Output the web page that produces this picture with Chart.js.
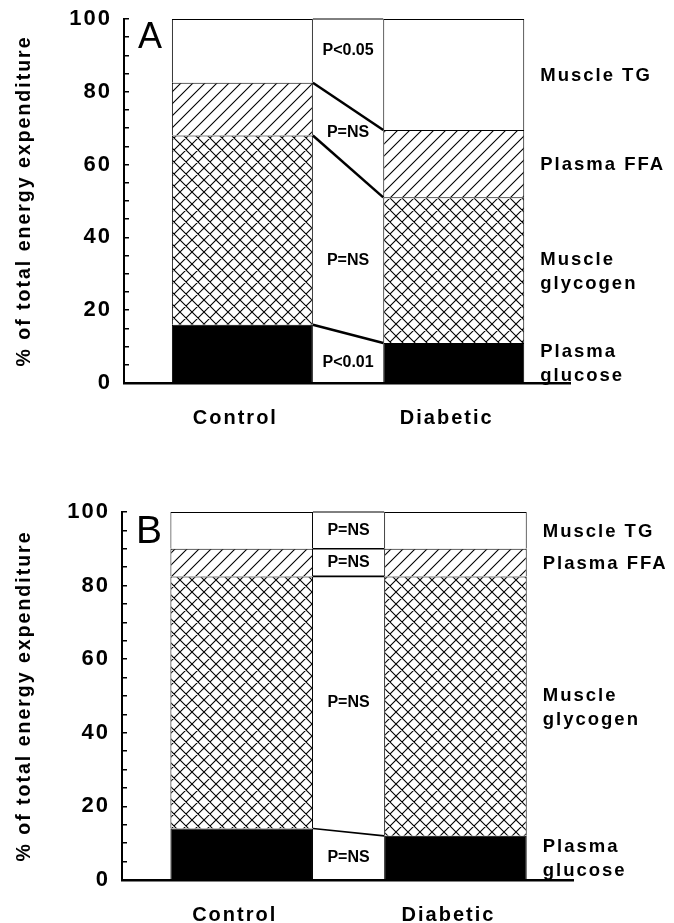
<!DOCTYPE html>
<html>
<head>
<meta charset="utf-8">
<script src="https://cdn.jsdelivr.net/npm/chart.js@4.4.0/dist/chart.umd.min.js"></script>
<style>
  body { margin: 0; background: #fff; }
  canvas { display: block; }
</style>
</head>
<body>
<canvas id="chartA" width="674" height="460"></canvas>
<canvas id="chartB" width="674" height="463"></canvas>
<script>
const groups = ['Control', 'Diabetic'];
const sources = ['Plasma glucose', 'Muscle glycogen', 'Plasma FFA', 'Muscle TG'];
const sourceLabels = [['Plasma', 'glucose'], ['Muscle', 'glycogen'], ['Plasma FFA'], ['Muscle TG']];
const yLabelTicks = [0, 20, 40, 60, 80, 100];

// panel A  (control, diabetic)
const glucoseA = [16, 11];
const glycogenA = [52, 40];
const ffaA = [14.5, 18.5];
const tgA = [17.5, 30.5];
const pValuesA = ['P<0.01', 'P=NS', 'P=NS', 'P<0.05'];

// panel B
const glucoseB = [14, 12];
const glycogenB = [68.5, 70.5];
const ffaB = [7.5, 7.5];
const tgB = [10, 10];
const pValuesB = ['P=NS', 'P=NS', 'P=NS', 'P=NS'];

const FONT = '"Liberation Sans", Arial, sans-serif';

function makePattern(kind) {
  const c = document.createElement('canvas');
  c.width = 12; c.height = 12;
  const g = c.getContext('2d');
  g.fillStyle = '#fff';
  g.fillRect(0, 0, 12, 12);
  g.strokeStyle = '#000';
  g.lineWidth = 1.1;
  g.beginPath();
  // "/" lines
  g.moveTo(-1, 13); g.lineTo(13, -1);
  g.moveTo(-1, 1); g.lineTo(1, -1);
  g.moveTo(11, 13); g.lineTo(13, 11);
  if (kind === 'cross') {
    g.moveTo(-1, -1); g.lineTo(13, 13);
    g.moveTo(11, -1); g.lineTo(13, 1);
    g.moveTo(-1, 11); g.lineTo(1, 13);
  }
  g.stroke();
  return g.createPattern(c, 'repeat');
}

const crossFill = makePattern('cross');
const hatchFill = makePattern('hatch');
const fills = ['#000', crossFill, hatchFill, '#fff'];

// connecting lines, P values, segment names, panel letter
const annotations = {
  id: 'annotations',
  beforeDraw(chart) {
    chart.ctx.letterSpacing = '2px';
  },
  afterDraw(chart, args, opts) {
    const ctx = chart.ctx;
    const metas = chart.data.datasets.map((d, i) => chart.getDatasetMeta(i));
    ctx.save();
    ctx.strokeStyle = '#000';
    ctx.fillStyle = '#000';
    metas.forEach((meta, i) => {
      const c = meta.data[0], d = meta.data[1];
      const x1 = c.x + c.width / 2, x2 = d.x - d.width / 2;
      ctx.lineWidth = i === metas.length - 1 ? 1 : opts.lineWidth;
      ctx.beginPath();
      ctx.moveTo(x1, c.y);
      ctx.lineTo(x2, d.y);
      ctx.stroke();

      // p value in the free part of the gap
      const top = Math.max(c.y, d.y), bottom = Math.min(c.base, d.base);
      ctx.letterSpacing = '0px';
      ctx.font = 'bold 16px ' + FONT;
      ctx.textAlign = 'center';
      ctx.textBaseline = 'middle';
      ctx.fillText(opts.pValues[i], (x1 + x2) / 2, (top + bottom) / 2);

      // segment name at the right of the diabetic bar
      const lines = sourceLabels[i];
      const mid = (d.y + d.base) / 2;
      ctx.letterSpacing = '2px';
      ctx.font = 'bold 18.5px ' + FONT;
      ctx.textAlign = 'left';
      ctx.textBaseline = 'alphabetic';
      lines.forEach((t, k) => {
        const yb = mid - (lines.length - 1) * 24 / 2 + k * 24 + 0.716 * 18.5 / 2;
        ctx.fillText(t, d.x + d.width / 2 + 16, yb);
      });
    });
    const area = chart.chartArea;
    ctx.letterSpacing = '0px';
    ctx.font = opts.letterSize + 'px ' + FONT;
    ctx.textAlign = 'left';
    ctx.textBaseline = 'alphabetic';
    ctx.fillText(opts.letter, area.left + 14, area.top + 3 + 0.716 * opts.letterSize);
    ctx.restore();
  }
};

function makePanel(id, letter, series, pValues, frame) {
  const canvas = document.getElementById(id);
  const H = canvas.height;
  const datasets = series.map((vals, i) => ({
    label: sources[i],
    data: vals.map((v, j) => ({ x: j + 1, y: v })),
    backgroundColor: fills[i],
    borderColor: '#000',
    borderWidth: 1,
    categoryPercentage: 0.667,
    barPercentage: 1
  }));
  return new Chart(canvas, {
    type: 'bar',
    data: { datasets },
    plugins: [annotations],
    options: {
      responsive: false,
      animation: false,
      layout: { padding: { top: frame.top, right: 674 - frame.right, left: 0, bottom: 0 } },
      plugins: {
        legend: { display: false },
        tooltip: { enabled: false },
        annotations: { pValues, letter, letterSize: frame.letterSize, lineWidth: frame.connector }
      },
      scales: {
        x: {
          type: 'linear',
          offset: false,
          bounds: 'data',
          min: 0.44,
          max: 2.55,
          stacked: true,
          afterBuildTicks: s => { s.ticks = groups.map((g, i) => ({ value: i + 1 })); },
          afterFit: s => { s.height = H - frame.bottom; },
          grid: { display: false, offset: false },
          border: { color: '#000', width: 2.5 },
          ticks: {
            autoSkip: false,
            maxRotation: 0,
            padding: 15,
            labelOffset: -7,
            color: '#000',
            font: { family: FONT, size: 20, weight: 'bold' },
            callback: v => groups[v - 1]
          }
        },
        y: {
          stacked: true,
          min: 0,
          max: 100,
          afterFit: s => {
            s.width = frame.left;
            s.paddingTop = 0;
            s.paddingBottom = 0;
          },
          grid: { drawOnChartArea: false, tickLength: -5, color: '#000', lineWidth: 1.5 },
          border: { color: '#000', width: 2 },
          ticks: {
            stepSize: 5,
            autoSkip: false,
            padding: 17,
            color: '#000',
            font: { family: FONT, size: 22, weight: 'bold' },
            callback: v => yLabelTicks.includes(v) ? v : ''
          },
          title: {
            display: true,
            text: '% of total energy expenditure',
            color: '#000',
            font: { family: FONT, size: 19.5, weight: 'bold' },
            padding: { top: 13, bottom: 0 }
          }
        }
      }
    }
  });
}

makePanel('chartA', 'A', [glucoseA, glycogenA, ffaA, tgA], pValuesA,
  { top: 19, bottom: 383, left: 124, right: 570, letterSize: 36, connector: 2.5 });
makePanel('chartB', 'B', [glucoseB, glycogenB, ffaB, tgB], pValuesB,
  { top: 52, bottom: 420, left: 122, right: 573, letterSize: 39, connector: 1.6 });
</script>
</body>
</html>
